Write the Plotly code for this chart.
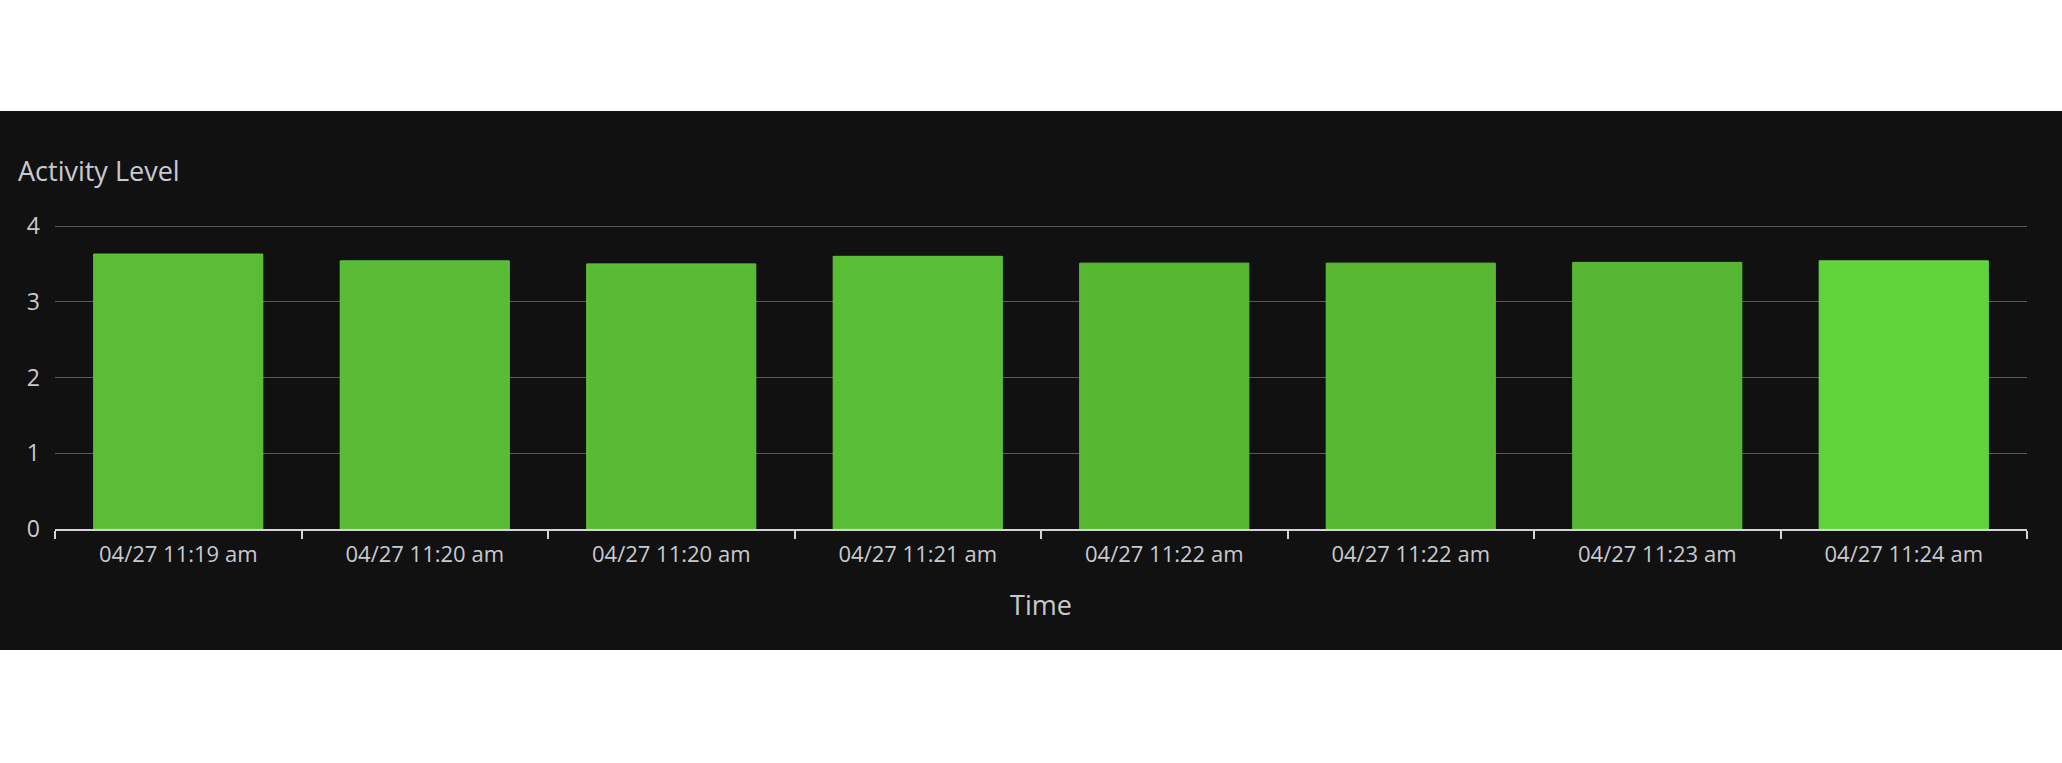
import plotly.graph_objects as go

# ---- data ----
time_labels = ["04/27 11:19 am", "04/27 11:20 am", "04/27 11:20 am", "04/27 11:21 am",
               "04/27 11:22 am", "04/27 11:22 am", "04/27 11:23 am", "04/27 11:24 am"]
activity_level = [3.63, 3.54, 3.50, 3.60, 3.51, 3.51, 3.52, 3.54]
y_tick_values = [0, 1, 2, 3, 4]

# ---- style ----
bar_colors = ["#5bbd36", "#5abc36", "#59bb35", "#5abd36", "#57b733", "#58b834", "#56b532", "#5fd33a"]
edge_colors = ["#63c93d", "#62c83d", "#61c73c", "#62c93d", "#5fc33a", "#60c43b", "#5ec139", "#6ae045"]
BG = "#111112"
TXT = "#c9cacf"
FONT = "Open Sans"

x_pos = list(range(len(time_labels)))

fig = go.Figure()
fig.add_trace(go.Bar(
    x=x_pos, y=activity_level,
    marker=dict(color=bar_colors, line=dict(color=edge_colors, width=1)),
    hoverinfo="x+y",
))

W, H = 2062, 763
ml, mr, mt, mb = 55, 35, 223, 234
pw, ph = W - ml - mr, H - mt - mb

# dark panel behind the chart
fig.add_shape(type="rect", xref="paper", yref="paper", layer="below",
              x0=-ml / pw - 0.01, x1=(W - ml) / pw + 0.01,
              y0=((H - mb) - 650) / ph, y1=((H - mb) - 111) / ph,
              fillcolor=BG, line=dict(width=0))

fig.update_layout(
    width=W, height=H,
    margin=dict(l=ml, r=mr, t=mt, b=mb, pad=0),
    paper_bgcolor="white",
    plot_bgcolor=BG,
    bargap=0.314,
    showlegend=False,
    font=dict(family=FONT, color=TXT, size=22),
    title=dict(text="Activity Level", xref="container", yref="container",
               x=18 / W, xanchor="left", y=1 - 172 / H, yanchor="middle",
               font=dict(family=FONT, size=27, color=TXT)),
    xaxis=dict(
        range=[-0.5, len(time_labels) - 0.5],
        tickmode="array", tickvals=x_pos, ticktext=time_labels,
        ticks="", showgrid=False, zeroline=False,
        showline=True, linecolor="#d4d4d8", linewidth=2,
        tickfont=dict(family=FONT, size=22, color=TXT),
        ticklabelstandoff=5,
        minor=dict(tick0=-0.5, dtick=1, ticks="outside", ticklen=8,
                   tickcolor="#d4d4d8", tickwidth=2, showgrid=False),
        title=dict(text="Time", standoff=29,
                   font=dict(family=FONT, size=27, color=TXT)),
    ),
    yaxis=dict(
        range=[0, 4.04], tickmode="array", tickvals=y_tick_values,
        showgrid=True, gridcolor="#58585e", gridwidth=1,
        zeroline=False, showline=False, ticks="",
        ticklabelstandoff=14,
        tickfont=dict(family=FONT, size=23, color=TXT),
    ),
)

fig.write_html("out.html")
